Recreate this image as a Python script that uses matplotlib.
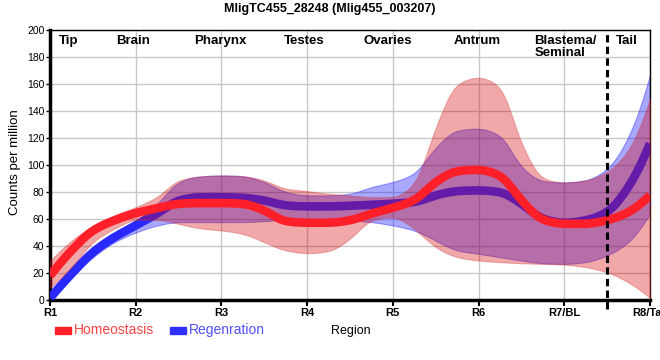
import numpy as np
import matplotlib
matplotlib.use("Agg")
import matplotlib.pyplot as plt
from matplotlib.patches import Rectangle

plt.rcParams['font.family'] = ['Liberation Sans', 'DejaVu Sans']

# ---------------- data ----------------
positions = [0, 0.25, 0.5, 0.75, 1, 1.25, 1.5, 1.75, 2, 2.25, 2.5, 2.75, 3, 3.25, 3.5,
             3.75, 4, 4.25, 4.5, 4.75, 5, 5.25, 5.5, 5.75, 6, 6.25, 6.5, 6.75, 7]
region_ticks = ["R1", "R2", "R3", "R4", "R5", "R6", "R7/BL", "R8/Tail"]
tissue_names = ["Tip", "Brain", "Pharynx", "Testes", "Ovaries", "Antrum", "Blastema/\nSeminal", "Tail"]

homeo_mean = [18, 36.6, 51.5, 59, 64.4, 68, 71.3, 71.8, 71.8, 71.3, 66.3, 58.2, 57.2, 57.2, 59,
              64, 68.3, 73.8, 87.4, 95.5, 96.5, 92.3, 73.8, 59.4, 56.4, 56.4, 59, 65, 77.5]
homeo_upper = [29, 44, 55, 62.6, 68.8, 76.2, 88.6, 91.6, 92.3, 91.8, 88.6, 82.4, 80.7, 78.7, 77.5,
               76.2, 76.2, 86, 128, 160, 165, 158, 116, 90, 87, 88.6, 94.8, 111, 149]
homeo_lower = [9, 24, 43, 52.7, 59.4, 59.4, 56.4, 53, 51.5, 49, 42.8, 36.6, 34.6, 36, 45.3,
               59, 61.4, 52.7, 39, 31.7, 29.2, 28, 27.2, 26.7, 26.2, 24.3, 20.5, 13, 1.5]

regen_mean = [1.5, 19.3, 35.4, 46.5, 55.2, 63.9, 73.8, 76.2, 76.2, 75.7, 73.8, 70, 69.3, 69.3, 69.8,
              70.5, 71.3, 72.5, 77.5, 80.7, 81.2, 80, 71.3, 60.1, 57, 59, 65, 83.7, 115.8]
regen_upper = [3, 23, 39, 49, 59, 71, 87.4, 91.6, 92.3, 91.8, 87.4, 80, 77.5, 77.5, 78.7,
               83.7, 87.4, 93.6, 113, 125.7, 127, 122, 98.5, 88, 87, 88.6, 97, 120.8, 166.6]
regen_lower = [0, 16.8, 31.7, 42.8, 50, 55.2, 57.7, 57.7, 57.7, 57.7, 58.4, 59.4, 59.4, 59.4, 59,
               57.7, 55.2, 51.5, 44, 36.6, 34.2, 31.7, 29.2, 27.2, 26.7, 28, 33, 42.8, 63.9]


def pchip(x, y, xn):
    x = np.asarray(x, float); y = np.asarray(y, float)
    h = np.diff(x); d = np.diff(y) / h
    n = len(x); m = np.zeros(n)
    for k in range(1, n - 1):
        if d[k - 1] * d[k] <= 0:
            m[k] = 0.0
        else:
            w1 = 2 * h[k] + h[k - 1]; w2 = h[k] + 2 * h[k - 1]
            m[k] = (w1 + w2) / (w1 / d[k - 1] + w2 / d[k])

    def end(h0, h1, d0, d1):
        v = ((2 * h0 + h1) * d0 - h0 * d1) / (h0 + h1)
        if np.sign(v) != np.sign(d0):
            v = 0.0
        elif np.sign(d0) != np.sign(d1) and abs(v) > abs(3 * d0):
            v = 3 * d0
        return v
    m[0] = end(h[0], h[1], d[0], d[1])
    m[-1] = end(h[-1], h[-2], d[-1], d[-2])
    idx = np.clip(np.searchsorted(x, xn) - 1, 0, n - 2)
    t = (xn - x[idx]) / h[idx]
    h00 = 2 * t**3 - 3 * t**2 + 1; h10 = t**3 - 2 * t**2 + t
    h01 = -2 * t**3 + 3 * t**2; h11 = t**3 - t**2
    return h00 * y[idx] + h10 * h[idx] * m[idx] + h01 * y[idx + 1] + h11 * h[idx] * m[idx + 1]


xs = np.linspace(0, 7, 701)


def curve(vals, sigma=0.06):
    """Smooth rendering of the values through the axis positions."""
    yv = pchip(positions, vals, xs)
    step = xs[1] - xs[0]
    half = int(4 * sigma / step)
    k = np.exp(-0.5 * (np.arange(-half, half + 1) * step / sigma) ** 2)
    k /= k.sum()
    left = 2 * yv[0] - yv[1:half + 1][::-1]
    right = 2 * yv[-1] - yv[-half - 1:-1][::-1]
    padded = np.concatenate([left, yv, right])
    return np.convolve(padded, k, mode='valid')


fig = plt.figure(figsize=(6.6, 3.6), dpi=100)
ax = fig.add_axes([50 / 660, 1 - 300 / 360, 600 / 660, 270 / 360])

red_fill = (0.83, 0.0, 0.0)
blue_fill = (0.0, 0.0, 1.0)
red_line = (1.0, 0.12, 0.16)
blue_line = (0.16, 0.16, 1.0)

# regeneration band + line
ax.fill_between(xs, curve(regen_lower), curve(regen_upper),
                color=blue_fill, alpha=0.34, linewidth=0.8, zorder=2)
ax.plot(xs, curve(regen_mean), color=blue_line, lw=6.2,
        solid_capstyle='butt', zorder=3)
# homeostasis band + line
ax.fill_between(xs, curve(homeo_lower), curve(homeo_upper),
                facecolor=red_fill, alpha=0.34, edgecolor=(0.85, 0.2, 0.2), linewidth=0.8, zorder=4)
ax.plot(xs, curve(homeo_mean), color=red_line, lw=6.2,
        solid_capstyle='butt', zorder=5)

ax.set_xlim(0, 7)
ax.set_ylim(0, 200)
ax.set_yticks(np.arange(0, 201, 20))
ax.set_xticks(range(len(region_ticks)))
ax.set_xticklabels(region_ticks, fontweight='bold', fontsize=8)
ax.tick_params(axis='y', labelsize=7.5, length=3, width=1, pad=1)
ax.tick_params(axis='x', length=4, width=1.5, pad=2)
ax.grid(True, color='#c8c8c8', lw=1, zorder=0)
ax.set_axisbelow(True)

for s in ['left', 'bottom']:
    ax.spines[s].set_linewidth(2.5)
for s in ['top', 'right']:
    ax.spines[s].set_linewidth(1)

# boundary between blastema and tail
ax.plot([6.5, 6.5], [-7, 200], color='black', lw=2.2, ls=(0, (2.4, 1.4)),
        clip_on=False, zorder=6)

# tissue names
name_x = [0.22, 0.97, 1.99, 2.96, 3.94, 4.98, 5.65, 6.73]
for nm, xx in zip(tissue_names, name_x):
    if '\n' in nm:
        ax.text(xx, 196, nm, ha='left', va='top', fontsize=9.5, fontweight='bold',
                linespacing=0.95, zorder=7)
    else:
        ax.text(xx, 196, nm, ha='center', va='top', fontsize=9.5, fontweight='bold', zorder=7)

fig.text(330 / 660, 1 - 9 / 360, "MligTC455_28248 (Mlig455_003207)", ha='center', va='center',
         fontsize=9, fontweight='bold')
fig.text(15 / 660, 1 - 162 / 360, "Counts per million", rotation=90, ha='center', va='center',
         fontsize=9.5)
fig.text(351 / 660, 1 - 331 / 360, "Region", ha='center', va='center', fontsize=9)

# legend
fig.patches.append(Rectangle((55 / 660, 1 - 333.5 / 360), 15.5 / 660, 7 / 360,
                             transform=fig.transFigure, color=red_line, figure=fig))
fig.text(74 / 660, 1 - 330 / 360, "Homeostasis", ha='left', va='center', fontsize=10,
         color='#ff4444')
fig.patches.append(Rectangle((170 / 660, 1 - 333.5 / 360), 15.5 / 660, 7 / 360,
                             transform=fig.transFigure, color='#3030ff', figure=fig))
fig.text(189 / 660, 1 - 330 / 360, "Regenration", ha='left', va='center', fontsize=10,
         color='#5050ff')

fig.savefig("out.png", dpi=100)
